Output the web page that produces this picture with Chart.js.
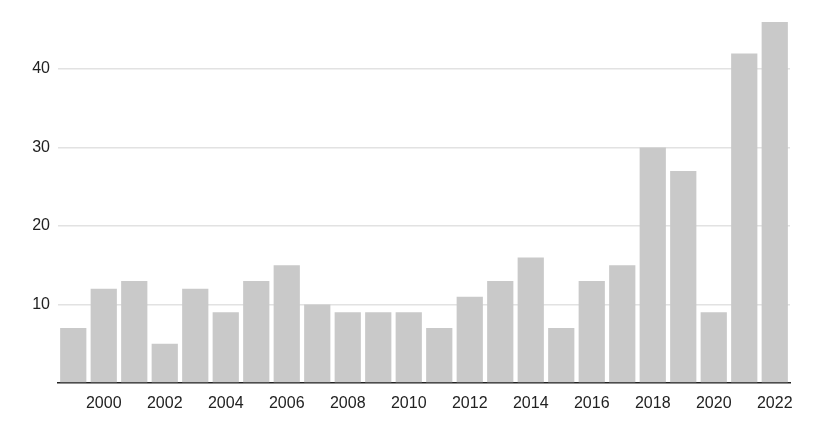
<!DOCTYPE html>
<html>
<head>
<meta charset="utf-8">
<script src="https://cdn.jsdelivr.net/npm/chart.js@4"></script>
<style>
  html, body { margin: 0; padding: 0; background: #fff; }
  #wrap { width: 825px; height: 423px; }
</style>
</head>
<body>
<div id="wrap"><canvas id="chart" width="825" height="423"></canvas></div>
<script>
// Years shown on the x axis (one bar per year)
const years = ['1999', '2000', '2001', '2002', '2003', '2004', '2005', '2006', '2007', '2008', '2009', '2010',
  '2011', '2012', '2013', '2014', '2015', '2016', '2017', '2018', '2019', '2020', '2021', '2022']
// Count per year
const counts = [7, 12, 13, 5, 12, 9, 13, 15, 10, 9, 9, 9, 7, 11, 13, 16, 7, 13, 15, 30, 27, 9, 42, 46]
// Gridline values on the y axis
const yTicks = [0, 10, 20, 30, 40]

const fontFamily = '"Liberation Sans", Arial, sans-serif'

const config = {
    type: 'bar',
    data: {
        labels: years,
        datasets: [{
            data: counts,
            backgroundColor: '#c9c9c9',
            borderWidth: 0,
            barPercentage: 0.86,
            categoryPercentage: 1
        }]
    },
    options: {
        responsive: false,
        animation: false,
        layout: {
            padding: { top: 22, right: 35, bottom: 0, left: 0 }
        },
        scales: {
            x: {
                grid: { display: false, drawTicks: false },
                border: { color: '#222', width: 1.5 },
                ticks: {
                    autoSkip: false,
                    maxRotation: 0,
                    padding: 11,
                    color: '#222',
                    font: { family: fontFamily, size: 16 },
                    // only every other year gets a label
                    callback: function (value, index) {
                        const y = years[index]
                        return Number(y) % 2 === 0 ? y : ''
                    }
                },
                afterFit: function (scale) { scale.height = 40 }
            },
            y: {
                min: 0,
                max: 46,
                border: { display: false },
                grid: {
                    drawTicks: false,
                    color: ctx => ctx.tick && ctx.tick.value === 0 ? 'rgba(0,0,0,0)' : '#e2e2e2',
                    lineWidth: 1.5
                },
                ticks: {
                    padding: 8,
                    color: '#222',
                    font: { family: fontFamily, size: 16 },
                    callback: value => value === 0 ? '' : value
                },
                afterBuildTicks: function (scale) {
                    scale.ticks = yTicks.map(v => ({ value: v }))
                },
                afterFit: function (scale) { scale.width = 58 }
            }
        },
        plugins: {
            legend: { display: false },
            tooltip: { enabled: false }
        }
    }
}

const chart = new Chart(document.getElementById('chart'), config)
</script>
</body>
</html>
